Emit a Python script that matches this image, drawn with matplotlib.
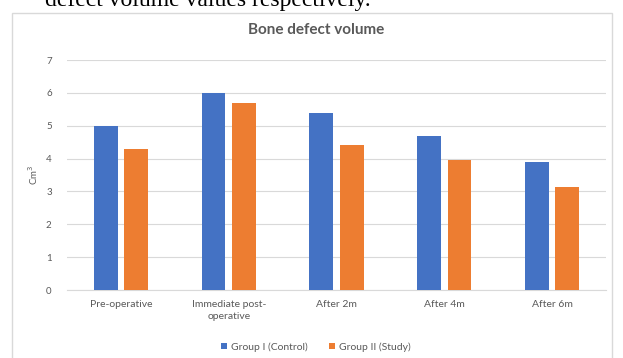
import numpy as np
import matplotlib.pyplot as plt
from matplotlib.patches import Rectangle

# Bone defect volume (cm^3) per follow-up stage
stages = ['Pre-operative', 'Immediate post-\noperative', 'After 2m', 'After 4m', 'After 6m']
group_control = [5.0, 6.0, 5.4, 4.7, 3.9]
group_study = [4.28, 5.68, 4.4, 3.95, 3.15]
y_ticks = [0, 1, 2, 3, 4, 5, 6, 7]

blue = '#4472C4'
orange = '#ED7D31'
text_gray = '#595959'
grid_gray = '#D9D9D9'

plt.rcParams['font.family'] = ['Lato', 'DejaVu Sans']

fig = plt.figure(figsize=(6.23, 3.58), dpi=100)

# Trailing sentence from the surrounding document, cut at the top
fig.text(0.072, 1 - 6 / 358, 'defect volume values respectively.',
         family='Liberation Serif', fontsize=17, color='black', va='baseline', ha='left')

# Chart frame
frame = Rectangle((12 / 623, -0.05), 600 / 623, 1.05 - 13 / 358, transform=fig.transFigure,
                  fill=False, edgecolor=grid_gray, linewidth=1.0, clip_on=False, zorder=-1)
fig.patches.append(frame)

ax = fig.add_axes([67 / 623, 68 / 358, 539 / 623, 230 / 358])
ax.set_facecolor('none')

x = np.arange(len(stages))
width = 0.222
offset = 0.141
ax.bar(x - offset, group_control, width, color=blue, label='Group I (Control)', zorder=3)
ax.bar(x + offset, group_study, width, color=orange, label='Group II (Study)', zorder=3)

ax.set_xlim(-0.5, len(stages) - 0.5)
ax.set_ylim(0, 7)
ax.set_yticks(y_ticks)
ax.yaxis.grid(True, color=grid_gray, linewidth=0.8, zorder=0)
ax.set_xticks(x)
ax.set_xticklabels(stages, fontsize=7.5, color=text_gray, linespacing=1.4)
ax.tick_params(axis='y', labelsize=7, labelcolor=text_gray, length=0, pad=11)
ax.tick_params(axis='x', length=0, pad=7)
for side in ['top', 'right', 'left']:
    ax.spines[side].set_visible(False)
ax.spines['bottom'].set_color(grid_gray)

ax.set_ylabel('Cm$^3$', fontsize=7, color=text_gray, labelpad=4)

fig.text(316 / 623, 1 - 30 / 358, 'Bone defect volume', fontsize=11, fontweight='bold',
         color=text_gray, ha='center', va='center')

fig.legend(loc='center', bbox_to_anchor=(316 / 623, 1 - 347 / 358), ncol=2, frameon=False,
           fontsize=7.5, labelcolor=text_gray, handlelength=0.6, handleheight=0.6,
           handletextpad=0.4, columnspacing=2.0)

fig.savefig('out.png', dpi=100)
